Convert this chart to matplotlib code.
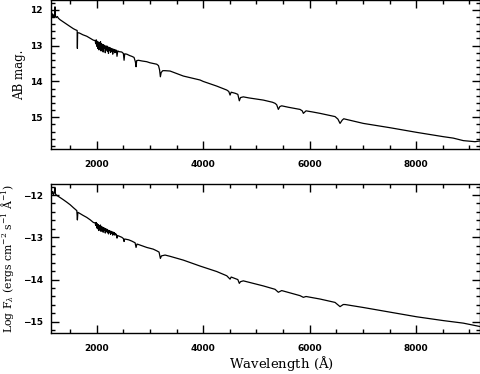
import numpy as np
import matplotlib
matplotlib.use("Agg")
import matplotlib.pyplot as plt
from matplotlib.ticker import MultipleLocator
from matplotlib.font_manager import FontProperties

plt.rcParams['mathtext.fontset'] = 'dejavuserif'

# top panel: AB magnitude vs wavelength
wave_ab = [1150, 1160, 1170, 1180, 1195, 1205, 1215, 1225, 1240, 1260, 1280, 1311,
           1370, 1437, 1500, 1561, 1600, 1632, 1636, 1640, 1674, 1740, 1812, 1880, 1937,
           1970, 1980, 1990, 2000, 2010, 2020, 2030, 2040, 2050, 2060, 2070, 2080,
           2090, 2100, 2110, 2120, 2130, 2140, 2150, 2160, 2170, 2180, 2190, 2200,
           2210, 2220, 2230, 2240, 2250, 2260, 2270, 2280, 2290, 2300, 2310, 2320,
           2330, 2340, 2350, 2360, 2370,
           2380, 2395, 2420, 2470, 2500, 2513, 2525, 2564, 2620, 2658, 2700, 2725,
           2738, 2750, 2782, 2850, 2939, 3000, 3060, 3127, 3160, 3180, 3195, 3210,
           3240, 3283, 3377, 3500, 3627, 3800, 3940, 4000, 4100, 4254, 4340, 4442,
           4480, 4504, 4525, 4600, 4650, 4678, 4700, 4753, 4860, 5000, 5129, 5300,
           5349, 5380, 5411, 5440, 5474, 5600, 5818, 5860, 5881, 5931, 6050, 6194,
           6350, 6476, 6530, 6570, 6610, 6640, 6664, 7007, 7508, 8010, 8510, 8697,
           8885, 9105, 9198]
mag_ab = [12.10, 12.20, 12.12, 12.22, 12.15, 12.20, 11.92, 12.18, 12.22, 12.19, 12.24, 12.28,
          12.34, 12.41, 12.47, 12.53, 12.56, 12.58, 13.08, 12.64, 12.65, 12.70, 12.74, 12.80, 12.85,
          12.86, 12.95, 12.84, 13.02, 12.88, 13.08, 12.90, 13.12, 12.92, 13.05, 12.89, 13.15,
          12.95, 13.10, 12.97, 13.18, 12.98, 13.08, 13.00, 13.20, 13.02, 13.12, 13.01, 13.16,
          13.04, 13.22, 13.05, 13.14, 13.06, 13.19, 13.08, 13.15, 13.09, 13.24, 13.10, 13.16,
          13.11, 13.20, 13.12, 13.18, 13.13,
          13.30, 13.15, 13.17, 13.18, 13.22, 13.41, 13.23, 13.24, 13.28, 13.30, 13.33, 13.45,
          13.59, 13.42, 13.41, 13.43, 13.45, 13.48, 13.50, 13.52, 13.56, 13.68, 13.87, 13.75,
          13.70, 13.70, 13.71, 13.78, 13.85, 13.91, 13.96, 14.00, 14.05, 14.13, 14.18, 14.24,
          14.28, 14.38, 14.30, 14.33, 14.36, 14.54, 14.45, 14.43, 14.46, 14.49, 14.52, 14.58,
          14.61, 14.65, 14.78, 14.70, 14.68, 14.72, 14.78, 14.82, 14.89, 14.82, 14.85, 14.89,
          14.94, 14.98, 15.05, 15.17, 15.08, 15.04, 15.05, 15.17, 15.29, 15.42, 15.54, 15.58,
          15.65, 15.68, 15.66]

# bottom panel: log F_lambda vs wavelength
wave_fl = [1150, 1160, 1170, 1185, 1200, 1215, 1225, 1250, 1311, 1370, 1437, 1500,
           1561, 1625, 1636, 1645, 1674, 1740, 1812, 1880, 1937,
           1970, 1980, 1990, 2000, 2010, 2020, 2030, 2040, 2050, 2060, 2070, 2080,
           2090, 2100, 2110, 2120, 2130, 2140, 2150, 2160, 2170, 2180, 2190, 2200,
           2210, 2220, 2230, 2240, 2250, 2260, 2270, 2280, 2290, 2300, 2310, 2320,
           2330, 2340, 2350, 2360, 2370,
           2380, 2395, 2470, 2500, 2513, 2525, 2600, 2658, 2720, 2738, 2755, 2782,
           2939, 3060, 3127, 3170, 3195, 3215, 3283, 3377, 3627, 3940, 4254, 4442,
           4504, 4525, 4650, 4678, 4700, 4753, 5129, 5349, 5411, 5474, 5818, 5881,
           5931, 6194, 6476, 6570, 6630, 6664, 7007, 7508, 8010, 8510, 8885, 9198]
logf = [-11.93, -11.97, -11.92, -11.99, -11.95, -11.83, -11.98, -12.01, -12.06, -12.11, -12.17, -12.23,
        -12.30, -12.37, -12.59, -12.41, -12.43, -12.48, -12.53, -12.59, -12.65,
        -12.66, -12.72, -12.65, -12.78, -12.68, -12.80, -12.70, -12.84, -12.72, -12.79, -12.71, -12.86,
        -12.75, -12.82, -12.76, -12.88, -12.77, -12.83, -12.79, -12.90, -12.80, -12.86, -12.81, -12.89,
        -12.83, -12.92, -12.84, -12.88, -12.85, -12.93, -12.86, -12.90, -12.87, -12.95, -12.88, -12.92,
        -12.89, -12.95, -12.91, -12.94, -12.93,
        -13.02, -12.96, -13.00, -13.03, -13.10, -13.04, -13.06, -13.09, -13.13, -13.24, -13.16, -13.17,
        -13.24, -13.28, -13.32, -13.35, -13.50, -13.44, -13.42, -13.45, -13.54, -13.68, -13.81, -13.91,
        -13.99, -13.94, -14.00, -14.09, -14.05, -14.03, -14.15, -14.23, -14.30, -14.26, -14.38, -14.42,
        -14.40, -14.46, -14.54, -14.64, -14.59, -14.59, -14.66, -14.77, -14.88, -14.97, -15.03, -15.11]

fig = plt.figure(figsize=(4.81, 3.74), dpi=100)
ax1 = fig.add_axes([0.106, 0.601, 0.892, 0.398])
ax2 = fig.add_axes([0.106, 0.110, 0.892, 0.398])

ax1.plot(wave_ab, mag_ab, color='black', lw=0.9)
ax2.plot(wave_fl, logf, color='black', lw=0.9)

ax1.set_ylim(15.89, 11.74)
ax2.set_ylim(-15.26, -11.74)

tick_font = FontProperties(family='DejaVu Sans', weight='bold', size=6.5)
for ax in (ax1, ax2):
    ax.set_xlim(1140, 9200)
    ax.xaxis.set_major_locator(MultipleLocator(2000))
    ax.xaxis.set_minor_locator(MultipleLocator(500))
    ax.yaxis.set_major_locator(MultipleLocator(1))
    ax.yaxis.set_minor_locator(MultipleLocator(0.2))
    ax.tick_params(which='both', direction='in', top=True, right=True, width=1.0)
    ax.tick_params(which='major', length=6)
    ax.tick_params(which='minor', length=3)
    ax.tick_params(axis='x', pad=8)
    ax.tick_params(axis='y', pad=6)
    for lab in ax.get_xticklabels() + ax.get_yticklabels():
        lab.set_fontproperties(tick_font)
    for sp in ax.spines.values():
        sp.set_linewidth(1.0)

ax1.set_ylabel('AB mag.', family='DejaVu Serif', fontsize=8.5, labelpad=3)
ax2.set_ylabel(r'Log F$_\lambda$ (ergs cm$^{-2}$ s$^{-1}$ $\mathrm{\AA}^{-1}$)',
               family='DejaVu Serif', fontsize=7.8, labelpad=5)
ax2.set_xlabel(r'Wavelength ($\mathrm{\AA}$)', family='DejaVu Serif', fontsize=9.5)
ax2.xaxis.set_label_coords(0.536, -0.145)

fig.savefig('out.png', dpi=100)
